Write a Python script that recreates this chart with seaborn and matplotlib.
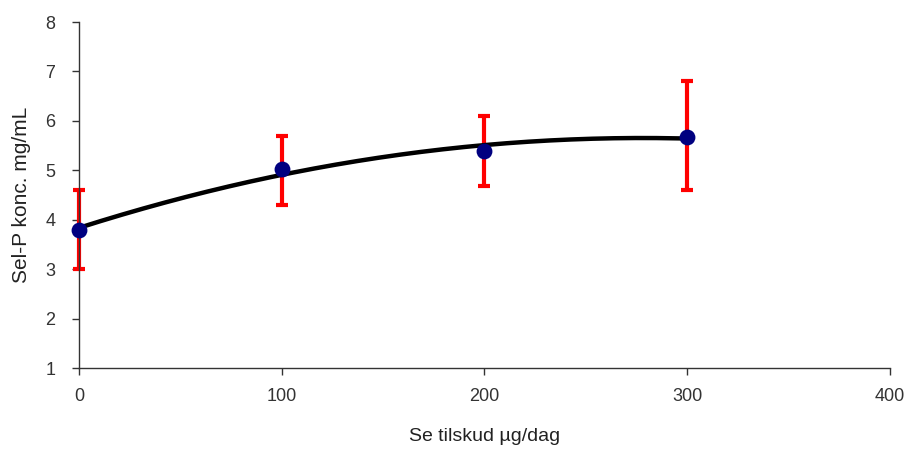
import numpy as np
import pandas as pd
import seaborn as sns
import matplotlib.pyplot as plt

# data
dose = [0, 100, 200, 300]
selp = [3.8, 5.02, 5.4, 5.68]
err_lo = [0.8, 0.72, 0.72, 1.08]
err_hi = [0.8, 0.68, 0.7, 1.12]

sns.set_style("white")
plt.rcParams['font.family'] = ['Liberation Sans', 'DejaVu Sans']

df = pd.DataFrame({"dose": dose, "selp": selp})

# Excel style 2nd order polynomial trendline
coef = np.polyfit(dose, selp, 2)
xs = np.linspace(0, 300, 200)
trend = pd.DataFrame({"dose": xs, "selp": np.polyval(coef, xs)})

fig = plt.figure(figsize=(9.1, 4.5), dpi=100)
ax = fig.add_axes([0.0868, 0.182, 0.891, 0.769])

eb = ax.errorbar(dose, selp, yerr=[err_lo, err_hi], fmt='none', ecolor='#ff0000',
                 elinewidth=3, capsize=4, capthick=3, zorder=1)
for art in eb.lines[1] + eb.lines[2]:
    art.set_clip_on(False)
sns.lineplot(data=trend, x="dose", y="selp", color='black', linewidth=3.2,
             ax=ax, zorder=2, clip_on=False)
sns.scatterplot(data=df, x="dose", y="selp", color='#000080', s=130,
                edgecolor='#000080', linewidth=0, ax=ax, zorder=3, clip_on=False)

ax.set_xlim(0, 400)
ax.set_ylim(1, 8)
ax.set_xticks([0, 100, 200, 300, 400])
ax.set_yticks(range(1, 9))
sns.despine(ax=ax)
for s in ['left', 'bottom']:
    ax.spines[s].set_color('#333333')
    ax.spines[s].set_linewidth(1)
ax.tick_params(axis='both', direction='out', length=5, width=1, color='#333333',
               labelsize=13, labelcolor='#333333')
ax.tick_params(axis='x', pad=9, bottom=True)
ax.tick_params(axis='y', pad=12, left=True)

ax.set_xlabel("Se tilskud µg/dag", fontsize=14, color='#222222', labelpad=17)
ax.set_ylabel("Sel-P konc. mg/mL", fontsize=15, color='#222222', labelpad=10)

fig.savefig("out.png", dpi=100)
